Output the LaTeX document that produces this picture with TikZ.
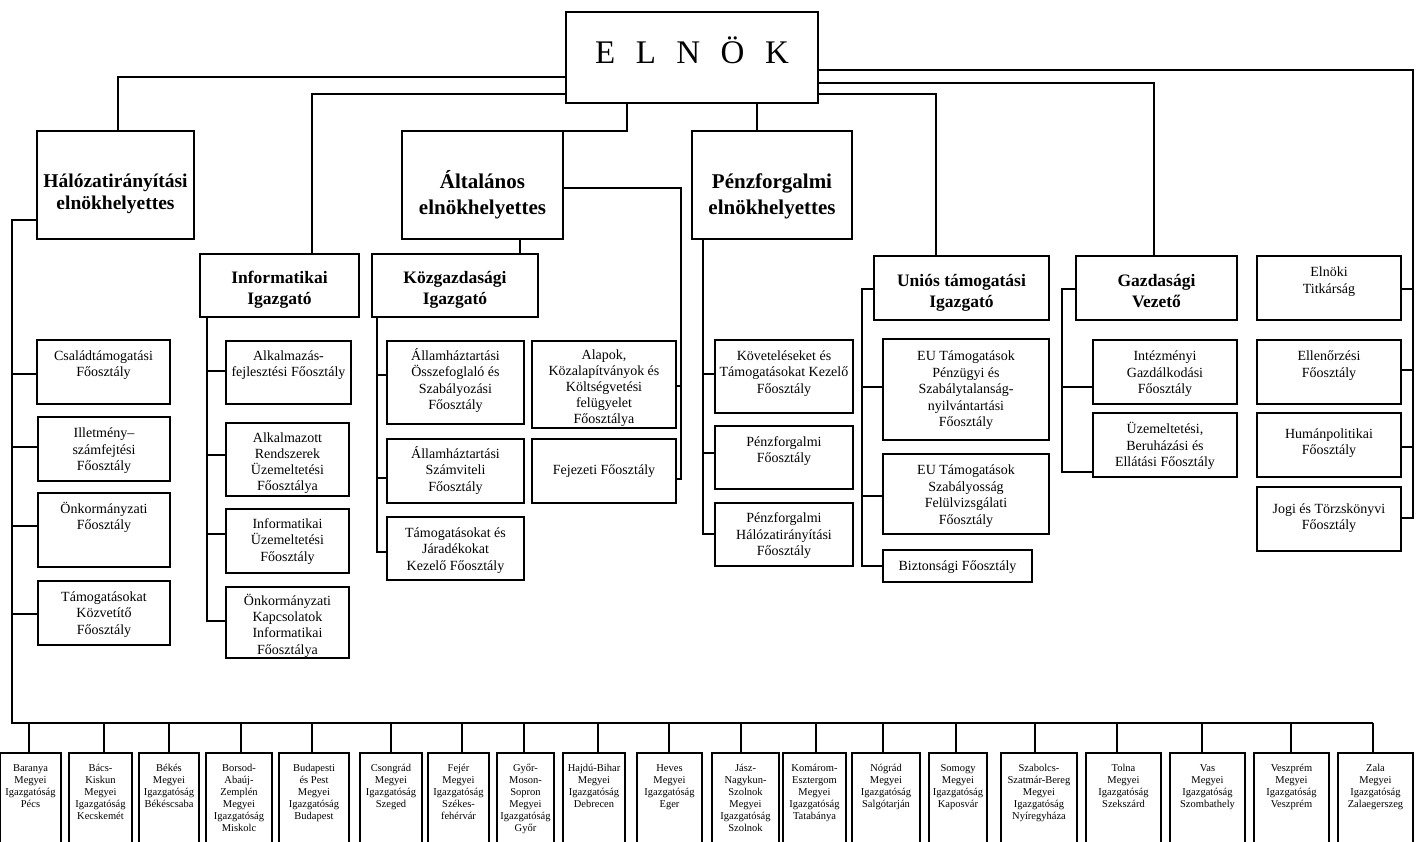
\documentclass[tikz,border=0pt]{standalone}
\usepackage{fontspec}
\setmainfont{Liberation Serif}
\newcommand\fBody{\fontsize{14}{16.5}\selectfont}
\newcommand\fTight{\fontsize{14}{16.2}\selectfont}
\newcommand\fSmall{\fontsize{10.5}{12}\selectfont}
\newcommand\fHead{\fontsize{17.5}{21.5}\selectfont\bfseries}
\newcommand\fHal{\fontsize{19.5}{22}\selectfont\bfseries}
\newcommand\fBig{\fontsize{21}{26}\selectfont\bfseries}
\newcommand\fEln{\fontsize{33}{36}\selectfont}
% name, x1, y1, x2, y2, font, first baseline, text
\newcommand\ob[8]{%
  \node[bx] (#1) at (#2,#3) {\parbox[c][\dimexpr #5pt-#3pt\relax][t]{\dimexpr #4pt-#2pt\relax}{\centering#6\leavevmode\rule{0pt}{#7pt}#8\par}};}
\tikzset{
  bx/.style={draw=black, line width=1.2pt, inner sep=0pt, outer sep=0pt, anchor=north west, fill=white},
  ln/.style={draw=black, line width=1.1pt}
}
\begin{document}
\begin{tikzpicture}[x=1pt,y=-1pt]
\useasboundingbox (0,0) rectangle (1422,841);
\clip (0,0) rectangle (1422,841);
\fill[white] (0,0) rectangle (1422,841);

% top levels
\ob{elnok}{566}{12}{818}{103}{\fEln}{51}{E\hspace{20.5pt}L\hspace{20.5pt}N\hspace{20.5pt}Ö\hspace{20.5pt}K}
\ob{hal}{37}{131}{194}{239}{\fHal}{56}{Hálózatirányítási\\elnökhelyettes}
\ob{alt}{402}{131}{563}{239}{\fBig}{57}{Általános\\elnökhelyettes}
\ob{penz}{692}{131}{852}{239}{\fBig}{57}{Pénzforgalmi\\elnökhelyettes}

\ob{info}{200}{254}{359}{317}{\fHead}{29}{Informatikai\\Igazgató}
\ob{kozg}{372}{254}{538}{317}{\fHead}{29}{Közgazdasági\\Igazgató}
\ob{unios}{874}{256}{1049}{320}{\fHead}{30}{Uniós támogatási\\Igazgató}
\ob{gazd}{1076}{256}{1237}{320}{\fHead}{30}{Gazdasági\\Vezető}
\ob{titk}{1257}{256}{1401}{320}{\fBody}{20.5}{Elnöki\\Titkárság}

% left column
\ob{csal}{37}{340}{170}{404}{\fBody}{20}{Családtámogatási\\Főosztály}
\ob{illet}{38}{417}{170}{481}{\fBody}{20.5}{Illetmény–\\számfejtési\\Főosztály}
\ob{onk}{38}{493}{170}{567}{\fBody}{20}{Önkormányzati\\Főosztály}
\ob{tamk}{38}{581}{170}{645}{\fBody}{20}{Támogatásokat\\Közvetítő\\Főosztály}

% informatika
\ob{alk}{226}{341}{351}{404}{\fBody}{19}{Alkalmazás-\\fejlesztési Főosztály}
\ob{alkr}{226}{423}{349}{496}{\fTight}{19}{Alkalmazott\\Rendszerek\\Üzemeltetési\\Főosztálya}
\ob{iuz}{226}{509}{349}{573}{\fBody}{19}{Informatikai\\Üzemeltetési\\Főosztály}
\ob{okik}{226}{587}{349}{658}{\fTight}{18.5}{Önkormányzati\\Kapcsolatok\\Informatikai\\Főosztálya}

% kozgazdasagi
\ob{aosz}{387}{341}{524}{424}{\fBody}{19}{Államháztartási\\Összefoglaló és\\Szabályozási\\Főosztály}
\ob{asz}{387}{439}{524}{503}{\fBody}{19}{Államháztartási\\Számviteli\\Főosztály}
\ob{tjk}{387}{517}{524}{580}{\fBody}{20}{Támogatásokat és\\Járadékokat\\Kezelő Főosztály}
\ob{alap}{532}{341}{676}{428}{\fTight}{18}{Alapok,\\Közalapítványok és\\Költségvetési\\felügyelet\\Főosztálya}
\ob{fej}{532}{439}{676}{503}{\fBody}{35}{Fejezeti Főosztály}

% penzforgalmi
\ob{kov}{715}{340}{853}{413}{\fBody}{20}{Követeléseket és\\Támogatásokat Kezelő\\Főosztály}
\ob{pfo}{715}{426}{853}{489}{\fBody}{20}{Pénzforgalmi\\Főosztály}
\ob{phf}{715}{503}{853}{566}{\fBody}{19.5}{Pénzforgalmi\\Hálózatirányítási\\Főosztály}

% unios
\ob{eup}{883}{339}{1049}{440}{\fBody}{21.5}{EU Támogatások\\Pénzügyi és\\Szabálytalanság-\\nyilvántartási\\Főosztály}
\ob{eus}{883}{454}{1049}{534}{\fBody}{20.5}{EU Támogatások\\Szabályosság\\Felülvizsgálati\\Főosztály}
\ob{bizt}{883}{550}{1032}{582}{\fBody}{20}{Biztonsági Főosztály}

% gazdasagi
\ob{intg}{1093}{340}{1237}{404}{\fBody}{20.5}{Intézményi\\Gazdálkodási\\Főosztály}
\ob{uzb}{1093}{413}{1237}{477}{\fBody}{20.5}{Üzemeltetési,\\Beruházási és\\Ellátási Főosztály}

% right column
\ob{ell}{1257}{340}{1401}{404}{\fBody}{20.5}{Ellenőrzési\\Főosztály}
\ob{hum}{1257}{413}{1401}{477}{\fBody}{25}{Humánpolitikai\\Főosztály}
\ob{jogi}{1257}{487}{1401}{551}{\fBody}{26}{Jogi és Törzskönyvi\\Főosztály}

% bottom row
\ob{b1}{0}{753}{61}{850}{\fSmall}{18}{Baranya\\Megyei\\Igazgatóság\\Pécs}
\ob{b2}{69}{753}{132}{850}{\fSmall}{18}{Bács-\\Kiskun\\Megyei\\Igazgatóság\\Kecskemét}
\ob{b3}{139}{753}{199}{850}{\fSmall}{18}{Békés\\Megyei\\Igazgatóság\\Békéscsaba}
\ob{b4}{206}{753}{272}{850}{\fSmall}{18}{Borsod-\\Abaúj-\\Zemplén\\Megyei\\Igazgatóság\\Miskolc}
\ob{b5}{279}{753}{349}{850}{\fSmall}{18}{Budapesti\\és Pest\\Megyei\\Igazgatóság\\Budapest}
\ob{b6}{360}{753}{422}{850}{\fSmall}{18}{Csongrád\\Megyei\\Igazgatóság\\Szeged}
\ob{b7}{428}{753}{489}{850}{\fSmall}{18}{Fejér\\Megyei\\Igazgatóság\\Székes-\\fehérvár}
\ob{b8}{497}{753}{554}{850}{\fSmall}{18}{Győr-\\Moson-\\Sopron\\Megyei\\Igazgatóság\\Győr}
\ob{b9}{563}{753}{625}{850}{\fSmall}{18}{Hajdú-Bihar\\Megyei\\Igazgatóság\\Debrecen}
\ob{b10}{637}{753}{702}{850}{\fSmall}{18}{Heves\\Megyei\\Igazgatóság\\Eger}
\ob{b11}{712}{753}{779}{850}{\fSmall}{18}{Jász-\\Nagykun-\\Szolnok\\Megyei\\Igazgatóság\\Szolnok}
\ob{b12}{783}{753}{846}{850}{\fSmall}{18}{Komárom-\\Esztergom\\Megyei\\Igazgatóság\\Tatabánya}
\ob{b13}{852}{753}{920}{850}{\fSmall}{18}{Nógrád\\Megyei\\Igazgatóság\\Salgótarján}
\ob{b14}{929}{753}{987}{850}{\fSmall}{18}{Somogy\\Megyei\\Igazgatóság\\Kaposvár}
\ob{b15}{1001}{753}{1077}{850}{\fSmall}{18}{Szabolcs-\\Szatmár-Bereg\\Megyei\\Igazgatóság\\Nyíregyháza}
\ob{b16}{1086}{753}{1161}{850}{\fSmall}{18}{Tolna\\Megyei\\Igazgatóság\\Szekszárd}
\ob{b17}{1170}{753}{1245}{850}{\fSmall}{18}{Vas\\Megyei\\Igazgatóság\\Szombathely}
\ob{b18}{1254}{753}{1329}{850}{\fSmall}{18}{Veszprém\\Megyei\\Igazgatóság\\Veszprém}
\ob{b19}{1338}{753}{1413}{850}{\fSmall}{18}{Zala\\Megyei\\Igazgatóság\\Zalaegerszeg}

% connectors from ELNOK
\draw[ln] (elnok.west |- 0,77) -| (hal.north -| 118,0);
\draw[ln] (elnok.west |- 0,94) -| (info.north -| 312,0);
\draw[ln] (elnok.south -| 627,0) |- (alt.north -| 575,118) -| (alt.north -| 520,0);
\draw[ln] (elnok.south -| 757,0) -- (penz.north -| 757,0);
\draw[ln] (elnok.east |- 0,94) -| (unios.north -| 936,0);
\draw[ln] (elnok.east |- 0,83) -| (gazd.north -| 1154,0);
\coordinate (rS) at (1413,518);
\draw[ln] (elnok.east |- 0,70) -| (rS) -- (jogi.east |- rS);
\draw[ln] (titk.east |- 0,289) -- (rS |- 0,289);
\draw[ln] (ell.east |- 0,370) -- (rS |- 0,370);
\draw[ln] (hum.east |- 0,447) -- (rS |- 0,447);

% Halozat + bus
\coordinate (busL) at (12,723);
\coordinate (busR) at (1373,723);
\draw[ln] (hal.west |- 0,220) -| (busL) -- (busR);
\draw[ln] (csal.west |- 0,374) -- (busL |- 0,374);
\draw[ln] (illet.west |- 0,447) -- (busL |- 0,447);
\draw[ln] (onk.west |- 0,526) -- (busL |- 0,526);
\draw[ln] (tamk.west |- 0,614) -- (busL |- 0,614);

% Informatika
\coordinate (iS) at (207,621);
\draw[ln] (info.south -| iS) -- (iS) -- (okik.west |- iS);
\draw[ln] (alk.west |- 0,371) -- (iS |- 0,371);
\draw[ln] (alkr.west |- 0,455) -- (iS |- 0,455);
\draw[ln] (iuz.west |- 0,534) -- (iS |- 0,534);

% Altalanos
\draw[ln] (alt.south -| 520,0) -- (kozg.north -| 520,0);
\coordinate (aS) at (681,479);
\draw[ln] (alt.east |- 0,188) -| (aS) -- (fej.east |- aS);
\draw[ln] (alap.east |- 0,386) -- (aS |- 0,386);
\coordinate (kS) at (377,552);
\draw[ln] (kozg.south -| kS) -- (kS) -- (tjk.west |- kS);
\draw[ln] (aosz.west |- 0,375) -- (kS |- 0,375);
\draw[ln] (asz.west |- 0,478) -- (kS |- 0,478);

% Penzforgalmi
\coordinate (pS) at (703,534);
\draw[ln] (penz.south -| pS) -- (pS) -- (phf.west |- pS);
\draw[ln] (kov.west |- 0,374) -- (pS |- 0,374);
\draw[ln] (pfo.west |- 0,453) -- (pS |- 0,453);

% Unios
\coordinate (uS) at (862,566);
\draw[ln] (unios.west |- 0,289) -| (uS) -- (bizt.west |- uS);
\draw[ln] (eup.west |- 0,387) -- (uS |- 0,387);
\draw[ln] (eus.west |- 0,496) -- (uS |- 0,496);

% Gazdasagi
\coordinate (gS) at (1062,472);
\draw[ln] (gazd.west |- 0,289) -| (gS) -- (uzb.west |- gS);
\draw[ln] (intg.west |- 0,387) -- (gS |- 0,387);

% bottom ticks
\foreach \n/\x in {b1/29,b2/104,b3/169,b4/241,b5/312,b6/391,b7/462,b8/524,b9/598,b10/669,b11/741,b12/816,b13/883,b14/956,b15/1035,b16/1117,b17/1202,b18/1291,b19/1373}
  \draw[ln] (\n.north -| \x,0) -- (busL -| \x,0);
\end{tikzpicture}
\end{document}
